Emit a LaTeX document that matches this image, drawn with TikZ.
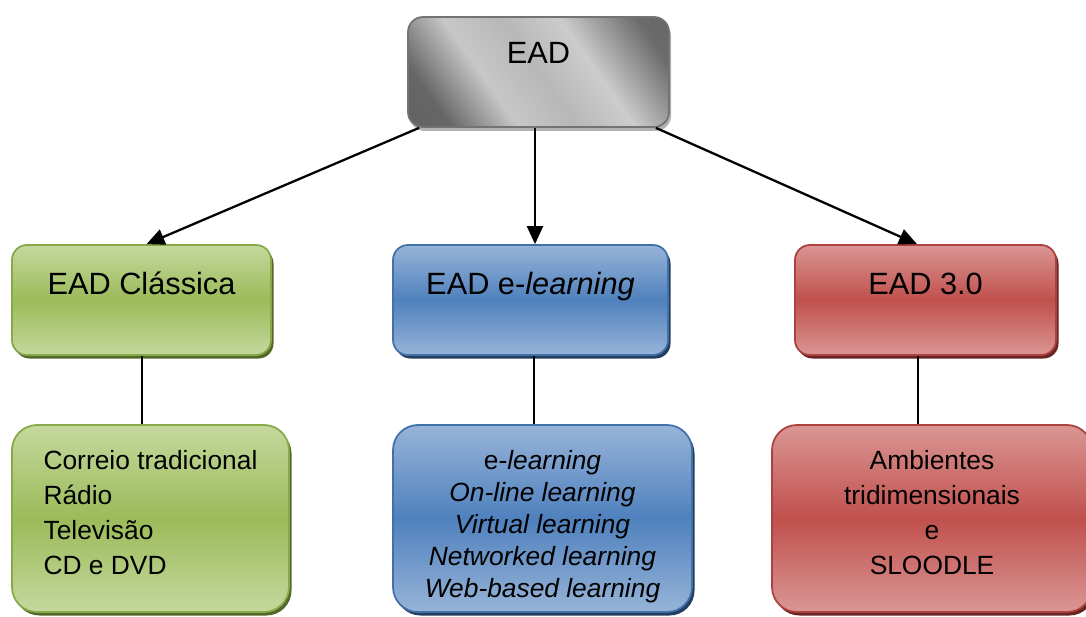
\documentclass[tikz,border=0pt]{standalone}
\usepackage{fontspec}
\setmainfont{Liberation Sans}
\usetikzlibrary{arrows.meta,shadows}

\definecolor{grlight}{RGB}{197,216,158}
\definecolor{grmid}{RGB}{155,187,89}
\definecolor{grline}{RGB}{135,170,72}
\definecolor{grshade}{RGB}{84,104,42}
\definecolor{bllight}{RGB}{151,180,216}
\definecolor{blmid}{RGB}{79,129,189}
\definecolor{blline}{RGB}{66,112,168}
\definecolor{blshade}{RGB}{36,62,96}
\definecolor{rdlight}{RGB}{218,150,148}
\definecolor{rdmid}{RGB}{192,80,77}
\definecolor{rdline}{RGB}{172,66,63}
\definecolor{rdshade}{RGB}{102,36,34}

\pgfdeclarehorizontalshading{eadmetal}{100bp}{rgb(0bp)=(0.36,0.36,0.36); rgb(24bp)=(0.40,0.40,0.40);
  rgb(38bp)=(0.78,0.78,0.78); rgb(50bp)=(0.72,0.72,0.72); rgb(62bp)=(0.80,0.80,0.80);
  rgb(78bp)=(0.42,0.42,0.42); rgb(100bp)=(0.36,0.36,0.36)}

\begin{document}
\begin{tikzpicture}[>={Triangle[length=3.6mm,width=3.2mm]}, font=\fontsize{17.5}{21}\selectfont]
    \tikzstyle{box}=[rounded corners=0.3cm, line width=1pt, inner ysep=0pt, text height=0.98cm, text depth=1.22cm]
    \tikzstyle{listbox}=[rounded corners=0.5cm, line width=1pt, minimum height=3.74cm, font=\fontsize{15}{20}\selectfont]
    \tikzstyle{metal}=[shading=eadmetal, shading angle=35, draw=black!55, drop shadow={shadow xshift=0.04cm, shadow yshift=-0.08cm, fill=black!30, opacity=1}]
    \tikzstyle{greenfill}=[top color=grlight, bottom color=grlight, middle color=grmid, draw=grline, drop shadow={shadow xshift=0.05cm, shadow yshift=-0.07cm, fill=grshade, opacity=1}]
    \tikzstyle{bluefill}=[top color=bllight, bottom color=bllight, middle color=blmid, draw=blline, drop shadow={shadow xshift=0.05cm, shadow yshift=-0.07cm, fill=blshade, opacity=1}]
    \tikzstyle{redfill}=[top color=rdlight, bottom color=rdlight, middle color=rdmid, draw=rdline, drop shadow={shadow xshift=0.05cm, shadow yshift=-0.07cm, fill=rdshade, opacity=1}]
    \tikzstyle{arrow}=[->, line width=1.3pt]
    \tikzstyle{link}=[line width=0.8pt]

    \useasboundingbox (0,0) rectangle (21.72,12.32);
    \clip (0,0) rectangle (21.72,12.32);

    % Draw the root node
    \node[box, metal, minimum width=5.22cm, text height=0.94cm, text depth=1.26cm] (EAD) at (10.77,10.88) {EAD};

    % Draw the three kinds of EAD
    \node[box, greenfill, minimum width=5.18cm] (classica) at (2.83,6.32) {EAD Clássica};
    \node[box, bluefill, minimum width=5.5cm] (elearning) at (10.61,6.32) {EAD e-\textit{learning}};
    \node[box, redfill, minimum width=5.22cm] (ead3) at (18.51,6.32) {EAD 3.0};

    % Draw the lists below them
    \node[listbox, greenfill, minimum width=5.54cm, align=left] (classica-list) at (3.01,1.95)
        {Correio tradicional\\Rádio\\Televisão\\CD e DVD\\[-0.46cm]};
    \node[listbox, bluefill, minimum width=5.98cm, align=center, font=\fontsize{15}{18.2}\selectfont] (elearning-list) at (10.85,1.95)
        {\rule{0pt}{0.71cm}e-\textit{learning}\\\textit{On-line learning}\\\textit{Virtual learning}\\\textit{Networked learning}\\\textit{Web-based learning}};
    \node[listbox, redfill, minimum width=6.4cm, align=center] (ead3-list) at (18.64,1.95)
        {Ambientes\\tridimensionais\\e\\SLOODLE\\[-0.46cm]};

    % Connect the root with the three kinds
    \draw[arrow] ([xshift=0.24cm]EAD.south west) -- ([xshift=0.1cm]classica.north);
    \draw[arrow] ([xshift=-0.07cm]EAD.south) -- ([xshift=-0.07cm]EAD.south |- elearning.north);
    \draw[arrow] ([xshift=-0.28cm]EAD.south east) -- ([xshift=-0.17cm]ead3.north);

    % Connect every kind with its list
    \foreach \name / \dx in {classica/0.01, elearning/0.07, ead3/-0.15}
        \draw[link] ([xshift=\dx cm]\name.south) -- ([xshift=\dx cm]\name.south |- \name-list.north);
\end{tikzpicture}
\end{document}
